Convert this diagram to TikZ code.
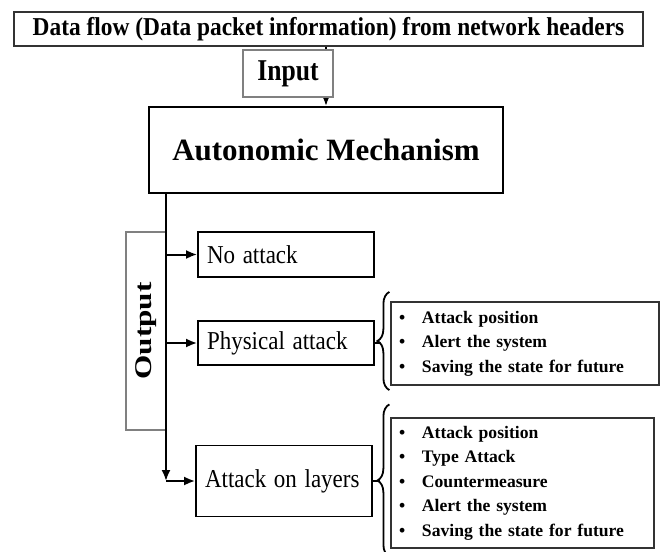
\documentclass[tikz,border=0pt]{standalone}
\usepackage{fontspec}
\setmainfont{Liberation Serif}
\usetikzlibrary{arrows.meta, decorations.pathreplacing, positioning}
\tikzset{
	framenode/.style={
			draw=black!80,
			line width=0.7pt,
			fill=white,
			inner sep=0pt
		},
	lightnode/.style={
			framenode,
			draw=black!50,
			line width=0.6pt
		},
	mainnode/.style={
			framenode,
			draw=black,
			line width=1pt,
			font=\bfseries\fontsize{15.5}{18}\selectfont
		},
	resultnode/.style={
			framenode,
			draw=black,
			line width=0.9pt,
			minimum width=88pt,
			text width=79pt,
			align=left,
			font=\fontsize{11.5}{13}\selectfont
		},
	listnode/.style={
			framenode,
			line width=0.6pt,
			align=left,
			font=\bfseries\fontsize{8.8}{12.25}\selectfont
		},
	arrowline/.style={
			line width=1pt,
			-{Latex[length=5.5pt,width=4.5pt]}
		},
	bracket/.style={
			line width=0.9pt,
			decorate,
			decoration={brace, amplitude=6pt}
		}
}
\newcommand{\bitem}[1]{\makebox[11.5pt][l]{\textbullet}#1}
\newcommand{\tall}[2]{\scalebox{1}[#1]{#2}}

\begin{document}
\begin{tikzpicture}[x=0.5pt, y=-0.5pt]
    \useasboundingbox (0,0) rectangle (670,552);
    \clip (0,0) rectangle (670,552);

    \node[framenode, minimum width=314.5pt, minimum height=17pt,
          font=\bfseries\fontsize{11.7}{14}\selectfont] (flow) at (328.5,29)
          {\tall{1.1}{Data flow (Data packet information) from network headers}};
    \node[mainnode, minimum width=177pt, minimum height=43pt] (main) at (326,150) {Autonomic Mechanism};

    \draw[arrowline] (flow.south -| main.north) -- (main.north);
    \node[lightnode, minimum width=45pt, minimum height=23.5pt,
          font=\bfseries\fontsize{12.8}{15}\selectfont] (input) at (288,73.5) {\tall{1.18}{Input}};

    \node[lightnode, rotate=90, minimum width=99pt, minimum height=20pt,
          font=\bfseries\fontsize{12}{14}\selectfont] (output) at (146,331) {\scalebox{1.3}[1]{Output}};

    \node[resultnode, minimum height=22.5pt] (noattack) at (286,254.5) {\tall{1.12}{No attack}};
    \node[resultnode, minimum height=22pt] (physical) at (286,343) {\tall{1.12}{Physical attack}};
    \node[resultnode, minimum height=35.5pt] (layers) at (284,481) {\tall{1.12}{Attack on layers}};

    \coordinate (trunktop) at (166,193);
    \coordinate (trunkend) at (166,481);
    \draw[arrowline] (trunktop) -- (trunkend);
    \draw[arrowline] (trunktop |- noattack.west) -- (noattack.west);
    \draw[arrowline] (trunktop |- physical.west) -- (physical.west);
    \draw[arrowline] (trunkend) -- (layers.west);

    \node[listnode, minimum width=134pt, minimum height=41.5pt, text width=126pt] (listone) at (525,343.5)
          {\bitem{Attack position}\\ \bitem{Alert the system}\\ \bitem{Saving the state for future}};
    \node[listnode, minimum width=131.5pt, minimum height=65pt, text width=123.5pt] (listtwo) at (522.5,483)
          {\bitem{Attack position}\\ \bitem{Type Attack}\\ \bitem{Countermeasure}\\ \bitem{Alert the system}\\ \bitem{Saving the state for future}};

    \draw[bracket] ([shift={(-1,4.5)}]listone.south west) -- ([shift={(-1,-9.5)}]listone.north west);
    \draw[bracket] ([shift={(-1,8)}]listtwo.south west) -- ([shift={(-1,-13)}]listtwo.north west);
    \draw[line width=0.9pt] (physical.east) -- ++(5,0);
    \draw[line width=0.9pt] (layers.east) -- ++(7,0);
\end{tikzpicture}
\end{document}
